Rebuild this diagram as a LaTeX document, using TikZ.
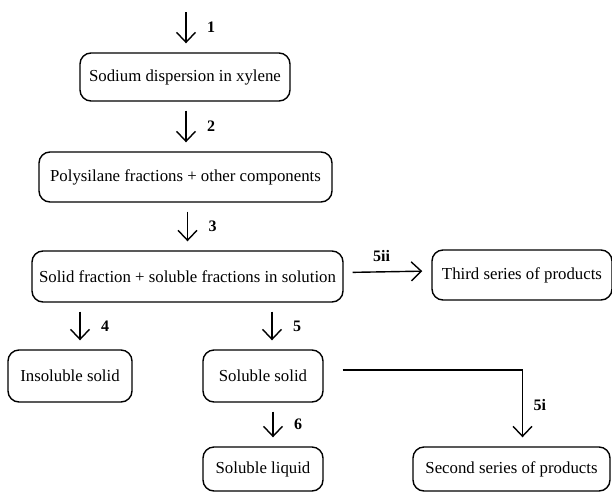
\documentclass[tikz,border=0pt]{standalone}
\usepackage{fontspec}
\setmainfont{Liberation Serif}
\usetikzlibrary{arrows.meta}

\begin{document}
\begin{tikzpicture}[x=1pt, y=-1pt, line width=1.4pt,
  box/.style={draw, rounded corners=11pt, inner sep=0pt, font=\fontsize{16.8}{19}\selectfont},
  flow/.style={-{Straight Barb[length=10pt, width=19pt]}, shorten >=9pt, shorten <=9pt},
  lbl/.style={font=\fontsize{16}{18}\selectfont\bfseries}]
  
  \useasboundingbox (0, 0) rectangle (612, 493);
  
  % main column
  \coordinate (feed) at (186, 3);
  \node[box, minimum width=210pt, minimum height=48pt] (sodium) at (185, 77) {Sodium dispersion in xylene};
  \node[box, minimum width=293pt, minimum height=50pt] (polysilane) at (185.5, 177) {Polysilane fractions + other components};
  \node[box, minimum width=311pt, minimum height=51pt] (mixture) at (187.5, 276.5) {Solid fraction + soluble fractions in solution};
  \node[box, minimum width=180pt, minimum height=50pt] (third) at (522, 275) {Third series of products};
  
  % lower row
  \node[box, minimum width=124pt, minimum height=52pt] (insoluble) at (70, 376) {Insoluble solid};
  \node[box, minimum width=120pt, minimum height=52pt] (solsolid) at (263, 376) {Soluble solid};
  \node[box, minimum width=120pt, minimum height=44pt] (solliquid) at (263, 469) {Soluble liquid};
  \node[box, minimum width=197pt, minimum height=44pt] (second) at (511.5, 469) {Second series of products};
  
  \draw[flow] (feed) -- node[lbl, right=17pt] (s1) {1} (feed |- sodium.north);
  \draw[flow] (feed |- sodium.south) -- node[lbl, right=17pt] (s2) {2} (feed |- polysilane.north);
  \draw[flow] (mixture.north |- polysilane.south) -- node[lbl, right=17pt] (s3) {3} (mixture);
  \draw[flow] ([xshift=10pt]insoluble.north |- mixture.south) -- node[lbl, right=17pt] (s4) {4} ([xshift=10pt]insoluble.north);
  \draw[flow] ([xshift=9pt]solsolid.north |- mixture.south) -- node[lbl, right=17pt] (s5) {5} ([xshift=9pt]solsolid.north);
  \draw[flow] ([xshift=10pt]solsolid.south) -- node[lbl, right=17pt] (s6) {6} ([xshift=10pt]solliquid.north);
  \draw[flow] ([yshift=4pt]mixture.east) -- node[lbl, above=6pt, xshift=-6pt] (s5ii) {5ii} ([yshift=4pt]third.west);
  \draw[flow, shorten <=19pt] ([yshift=6pt]solsolid.east) -| node[lbl, pos=0.73, right=7pt] (s5i) {5i} ([xshift=11pt]second.north);
  
\end{tikzpicture}
\end{document}
